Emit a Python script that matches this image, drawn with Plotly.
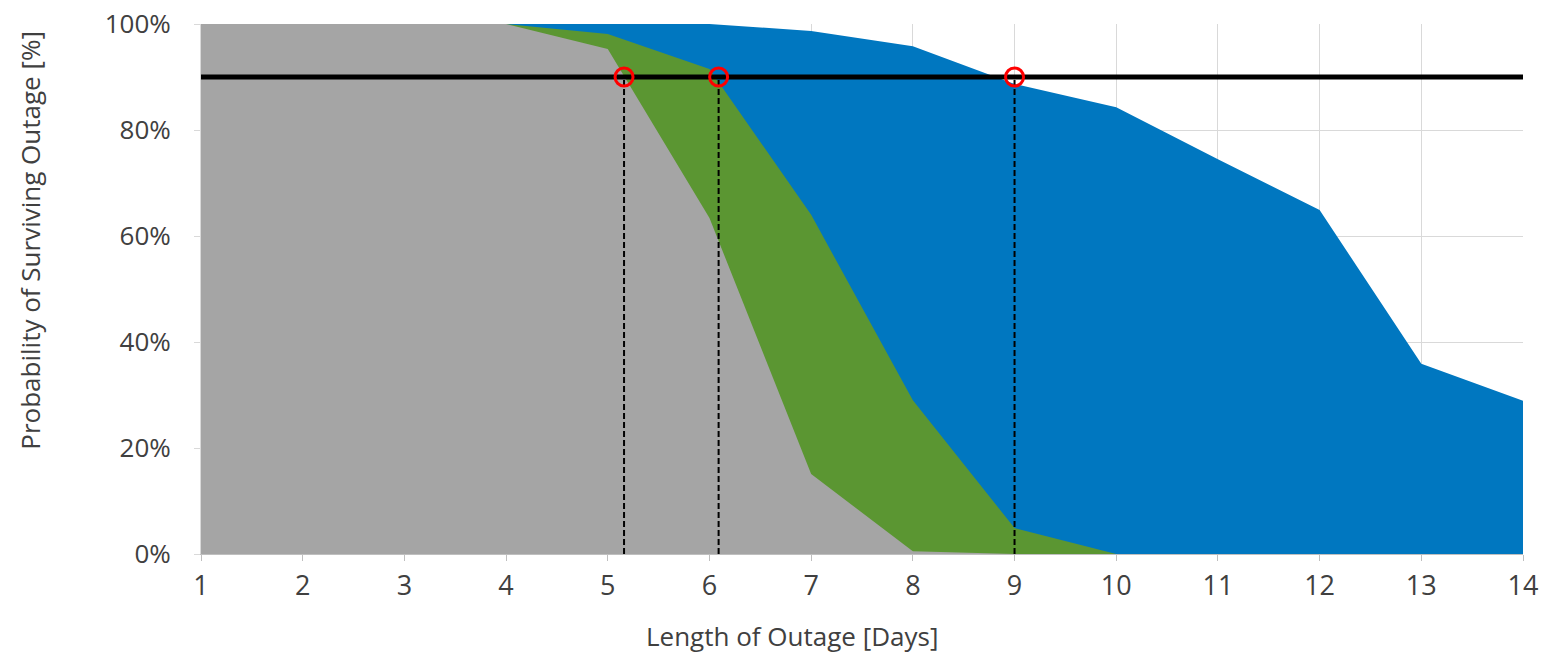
import plotly.graph_objects as go

days = [1, 2, 3, 4, 5, 6, 7, 8, 9, 10, 11, 12, 13, 14]
blue_vals = [100, 100, 100, 100, 100, 100, 98.7, 95.8, 88.7, 84.3, 74.5, 64.9, 35.9, 28.9]
green_vals = [100, 100, 100, 100, 98.1, 91.5, 64.0, 29.0, 4.9, 0, 0, 0, 0, 0]
gray_vals = [100, 100, 100, 100, 95.3, 63.4, 15.1, 0.5, 0, 0, 0, 0, 0, 0]
threshold = 90
crossing_days = [5.16, 6.09, 9.0]
y_ticks = [0, 20, 40, 60, 80, 100]
y_tick_labels = ["0%", "20%", "40%", "60%", "80%", "100%"]
x_title = "Length of Outage [Days]"
y_title = "Probability of Surviving Outage [%]"

fig = go.Figure()
for vals, col in [(blue_vals, "#0077C0"), (green_vals, "#5B9632"), (gray_vals, "#A5A5A5")]:
    fig.add_trace(go.Scatter(x=days, y=vals, mode="lines", line=dict(width=0, color=col),
                             fill="tozeroy", fillcolor=col, hoverinfo="skip", showlegend=False))

fig.add_trace(go.Scatter(x=[days[0], days[-1]], y=[threshold, threshold], mode="lines",
                         line=dict(color="black", width=5), showlegend=False))
for d in crossing_days:
    fig.add_trace(go.Scatter(x=[d, d], y=[0, threshold], mode="lines",
                             line=dict(color="black", width=2, dash="6px,3px"), showlegend=False))
fig.add_trace(go.Scatter(x=crossing_days, y=[threshold] * len(crossing_days), mode="markers",
                         marker=dict(symbol="circle-open", size=18, color="#FF0000",
                                     line=dict(width=3, color="#FF0000")), showlegend=False))

# page body has an 8px margin; compensate so the plot lands at the reference pixels
fig.update_layout(
    width=1541, height=645, margin=dict(l=193, r=26, t=16, b=99),
    plot_bgcolor="white", paper_bgcolor="white",
    font=dict(family="Open Sans", color="#404040"),
    annotations=[
        dict(text=x_title, xref="paper", yref="paper", x=0.447, y=-0.155, showarrow=False,
             xanchor="center", yanchor="middle", font=dict(size=26, color="#404040")),
        dict(text=y_title, xref="paper", yref="paper", x=-0.129, y=0.592, showarrow=False,
             textangle=-90, xanchor="center", yanchor="middle", font=dict(size=26, color="#404040")),
    ],
)
fig.update_xaxes(range=[1, 14], tickvals=days, showgrid=True, gridcolor="#D9D9D9", gridwidth=1,
                 showline=True, linecolor="#BFBFBF", ticks="outside", ticklen=6, tickcolor="#BFBFBF",
                 tickfont=dict(size=27, color="#404040"), ticklabelstandoff=2, zeroline=False,
                 automargin=False, ticklabeloverflow="allow")
fig.update_yaxes(range=[0, 100], tickvals=y_ticks, ticktext=y_tick_labels, showgrid=True,
                 gridcolor="#D9D9D9", gridwidth=1, showline=True, linecolor="#D9D9D9",
                 ticks="outside", ticklen=6, tickcolor="#D9D9D9", zeroline=False,
                 automargin=False, ticklabeloverflow="allow",
                 tickfont=dict(size=26, color="#404040"), ticklabelstandoff=18)

fig.write_html("out.html")
